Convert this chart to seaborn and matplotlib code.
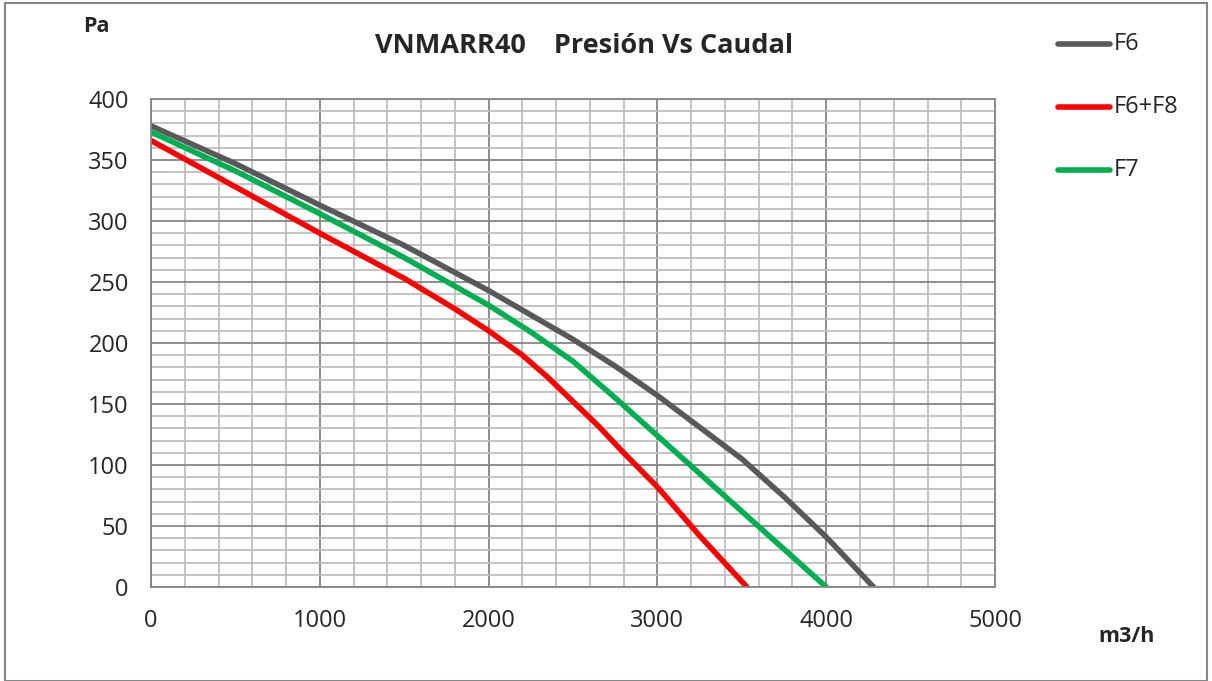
import matplotlib
matplotlib.use("Agg")
import matplotlib.pyplot as plt
from matplotlib.patches import Rectangle
from matplotlib.ticker import MultipleLocator
import seaborn as sns
import pandas as pd

# curve data (m3/h vs Pa)
f6_x = [0, 500, 1000, 1500, 2000, 2500, 2750, 3000, 3250, 3500, 3750, 4000, 4280]
f6_y = [378, 347, 313, 280, 243, 203, 181, 157, 131, 105, 74, 41, 0]

f7_x = [0, 500, 1000, 1500, 2000, 2250, 2500, 2750, 3000, 3250, 3500, 3750, 4000]
f7_y = [373, 341, 306, 270, 231, 209, 185, 155, 124, 93, 62, 31, 0]

f68_x = [0, 500, 1000, 1500, 1800, 2000, 2200, 2350, 2500, 2650, 2800, 3000, 3250, 3530]
f68_y = [366, 328, 290, 253, 228, 210, 190, 172, 152, 132, 110, 82, 42, 0]

series = ["F6", "F6+F8", "F7"]
colors = {"F6": "#595959", "F6+F8": "#ff0000", "F7": "#00b050"}

df = pd.concat([
    pd.DataFrame({"caudal": f6_x, "presion": f6_y, "serie": "F6"}),
    pd.DataFrame({"caudal": f68_x, "presion": f68_y, "serie": "F6+F8"}),
    pd.DataFrame({"caudal": f7_x, "presion": f7_y, "serie": "F7"}),
])

sns.set_style("white")
plt.rcParams['font.family'] = ['Open Sans', 'DejaVu Sans']

fig = plt.figure(figsize=(12.12, 6.81), dpi=100)
ax = fig.add_axes([0.1246, 0.138, 0.6964, 0.7166])

sns.lineplot(data=df, x="caudal", y="presion", hue="serie", hue_order=series,
             palette=colors, linewidth=4, sort=False, estimator=None,
             ax=ax, legend=False)
for l in ax.lines:
    l.set_solid_capstyle("round")
    l.set_solid_joinstyle("round")

ax.set_xlim(0, 5000)
ax.set_ylim(0, 400)
ax.xaxis.set_major_locator(MultipleLocator(1000))
ax.xaxis.set_minor_locator(MultipleLocator(200))
ax.yaxis.set_major_locator(MultipleLocator(50))
ax.yaxis.set_minor_locator(MultipleLocator(10))
ax.grid(which="major", color="#868686", linewidth=1.3)
ax.grid(which="minor", color="#bfbfbf", linewidth=1.3)
ax.set_axisbelow(True)
for s in ax.spines.values():
    s.set_color("#868686")
    s.set_linewidth(1.3)
ax.tick_params(which="both", length=0, labelsize=17, pad=16)
ax.tick_params(axis="x", pad=16)
ax.set_xlabel("")
ax.set_ylabel("")

fig.text(584 / 1212, 1 - 46 / 681, "VNMARR40    Presión Vs Caudal", ha="center",
         va="center", fontsize=19.5, fontweight="bold")
fig.text(83 / 1212, 1 - 27 / 681, "Pa", ha="left", va="center",
         fontsize=15.5, fontweight="bold")
fig.text(1098 / 1212, 1 - 637 / 681, "m3/h", ha="left", va="center",
         fontsize=15.5, fontweight="bold")

# legend drawn as figure lines
for i, name in enumerate(series):
    yy = 1 - (44 + 63 * i) / 681
    fig.add_artist(plt.Line2D([1058 / 1212, 1110 / 1212], [yy, yy],
                              color=colors[name], linewidth=4,
                              solid_capstyle="round"))
    fig.text(1114 / 1212, yy, name, ha="left", va="center", fontsize=17)

fig.add_artist(Rectangle((5 / 1212, 0.0), 1 - 10 / 1212, 1 - 3 / 681,
                         transform=fig.transFigure, fill=False,
                         edgecolor="#868686", linewidth=1.5))

fig.savefig("out.png", dpi=100)
